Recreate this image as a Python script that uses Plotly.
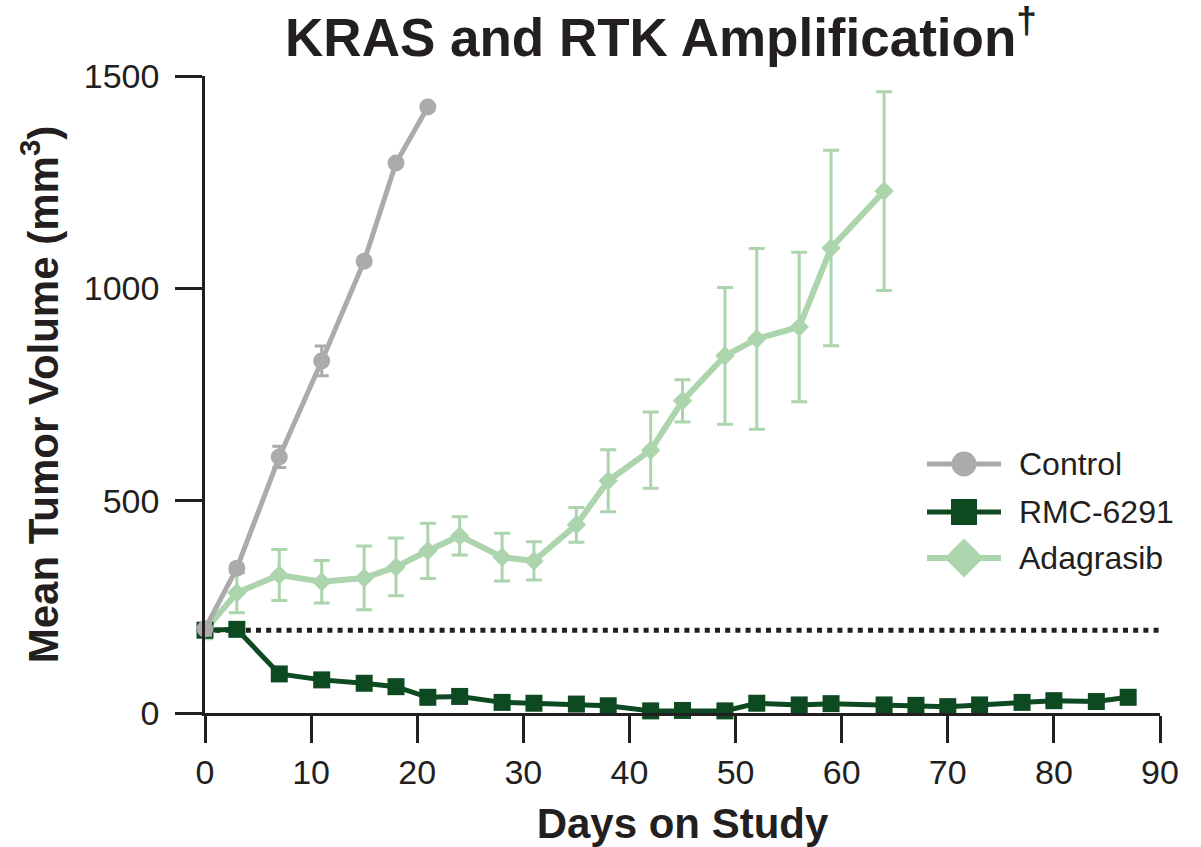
import plotly.graph_objects as go

# Mean tumor volume (mm³) by study day, with error bars
control_days = [0, 3, 7, 11, 15, 18, 21]
control_vol = [198, 341, 603, 829, 1064, 1295, 1427]
control_err = [15, 10, 25, 35, 8, 8, 8]

rmc_days = [0, 3, 7, 11, 15, 18, 21, 24, 28, 31, 35, 38, 42, 45, 49, 52, 56,
            59, 64, 67, 70, 73, 77, 80, 84, 87]
rmc_vol = [195, 197, 92, 78, 70, 62, 37, 39, 25, 23, 21, 17, 5, 6, 5, 23, 19,
           22, 19, 18, 15, 19, 25, 29, 27, 37]

adag_days = [0, 3, 7, 11, 15, 18, 21, 24, 28, 31, 35, 38, 42, 45, 49, 52, 56, 59, 64]
adag_vol = [195, 283, 325, 309, 318, 344, 382, 417, 367, 358, 443, 547, 619, 735,
            841, 881, 909, 1095, 1229]
adag_err = [20, 47, 60, 50, 75, 68, 65, 45, 56, 45, 41, 73, 90, 50, 161, 213, 176,
            230, 234]

baseline = 195  # starting tumor volume reference

x_ticks = [0, 10, 20, 30, 40, 50, 60, 70, 80, 90]
y_ticks = [0, 500, 1000, 1500]

INK = "#231f20"
FONT = "Liberation Sans, Arial, Helvetica, sans-serif"

series = [
    # name, days, values, errors, colour, line width, symbol, size, key size
    ("Adagrasib", adag_days, adag_vol, adag_err, "#acd5ae", 6, "diamond", 15, 30),
    ("RMC-6291", rmc_days, rmc_vol, None, "#0d4a22", 5, "square", 17, 26),
    ("Control", control_days, control_vol, control_err, "#ababab", 5, "circle", 17, 25),
]

fig = go.Figure()

for name, days, vals, errs, colour, lw, symbol, size, _ in series:
    err = None
    if errs is not None:
        err = dict(type="data", array=errs, color=colour, thickness=3,
                   width=8 if symbol == "diamond" else 7)
    fig.add_trace(go.Scatter(
        x=days, y=vals, name=name, mode="lines+markers",
        line=dict(color=colour, width=lw),
        marker=dict(symbol=symbol, size=size, color=colour),
        error_y=err, cliponaxis=False, showlegend=False,
    ))

fig.add_shape(type="line", xref="x", yref="y", x0=0, x1=90, y0=baseline, y1=baseline,
              line=dict(color=INK, width=5, dash="5px,5.2px"), layer="below")

# Legend keys, laid out in pixel units on an overlay axis pair
key_rows = {"Control": 464, "RMC-6291": 512, "Adagrasib": 558}
key_x0, key_x1, text_x = 927, 1001, 1017
for name, _, _, _, colour, lw, symbol, _, key_size in series:
    row = key_rows[name]
    fig.add_trace(go.Scatter(
        x=[key_x0, key_x1], y=[row, row], mode="lines", xaxis="x2", yaxis="y2",
        line=dict(color=colour, width=lw), showlegend=False, hoverinfo="skip",
        cliponaxis=False,
    ))
    fig.add_trace(go.Scatter(
        x=[(key_x0 + key_x1) / 2], y=[row], mode="markers", xaxis="x2", yaxis="y2",
        marker=dict(symbol=symbol, size=key_size, color=colour),
        showlegend=False, hoverinfo="skip", cliponaxis=False,
    ))
    fig.add_annotation(x=text_x, y=row, xref="x2", yref="y2", text=name,
                       showarrow=False, xanchor="left", yanchor="middle",
                       font=dict(size=32, color=INK, family=FONT))

fig.update_layout(
    width=1201, height=847,
    margin=dict(l=205, r=41, t=76, b=134, autoexpand=False),
    paper_bgcolor="white", plot_bgcolor="white",
    font=dict(family=FONT, color=INK),
    title=dict(text="<b>KRAS and RTK Amplification<sup>†</sup></b>",
               x=0.5504, xanchor="center", y=1 - 37 / 847, yanchor="middle",
               font=dict(size=53, color=INK, family=FONT)),
    showlegend=False,
    xaxis=dict(range=[0, 90], tickvals=x_ticks, ticks="outside", ticklen=27,
               tickwidth=2.5, tickcolor=INK, showline=True, linewidth=2.5,
               linecolor=INK, showgrid=False, zeroline=False, automargin=False,
               tickfont=dict(size=34, color=INK),
               title=dict(text="<b>Days on Study</b>", font=dict(size=42, color=INK),
                          standoff=23)),
    yaxis=dict(range=[0, 1500], tickvals=y_ticks, ticks="outside", ticklen=27,
               tickwidth=2.5, tickcolor=INK, showline=True, linewidth=2.5,
               linecolor=INK, showgrid=False, zeroline=False, automargin=False,
               tickfont=dict(size=34, color=INK), ticklabelstandoff=9,
               title=dict(text="<b>Mean Tumor Volume (mm<sup>3</sup>)</b>",
                          font=dict(size=42, color=INK), standoff=13)),
    xaxis2=dict(overlaying="x", range=[205, 1160], visible=False, fixedrange=True),
    yaxis2=dict(overlaying="y", range=[713, 76], visible=False, fixedrange=True),
)

fig.write_html("out.html")
